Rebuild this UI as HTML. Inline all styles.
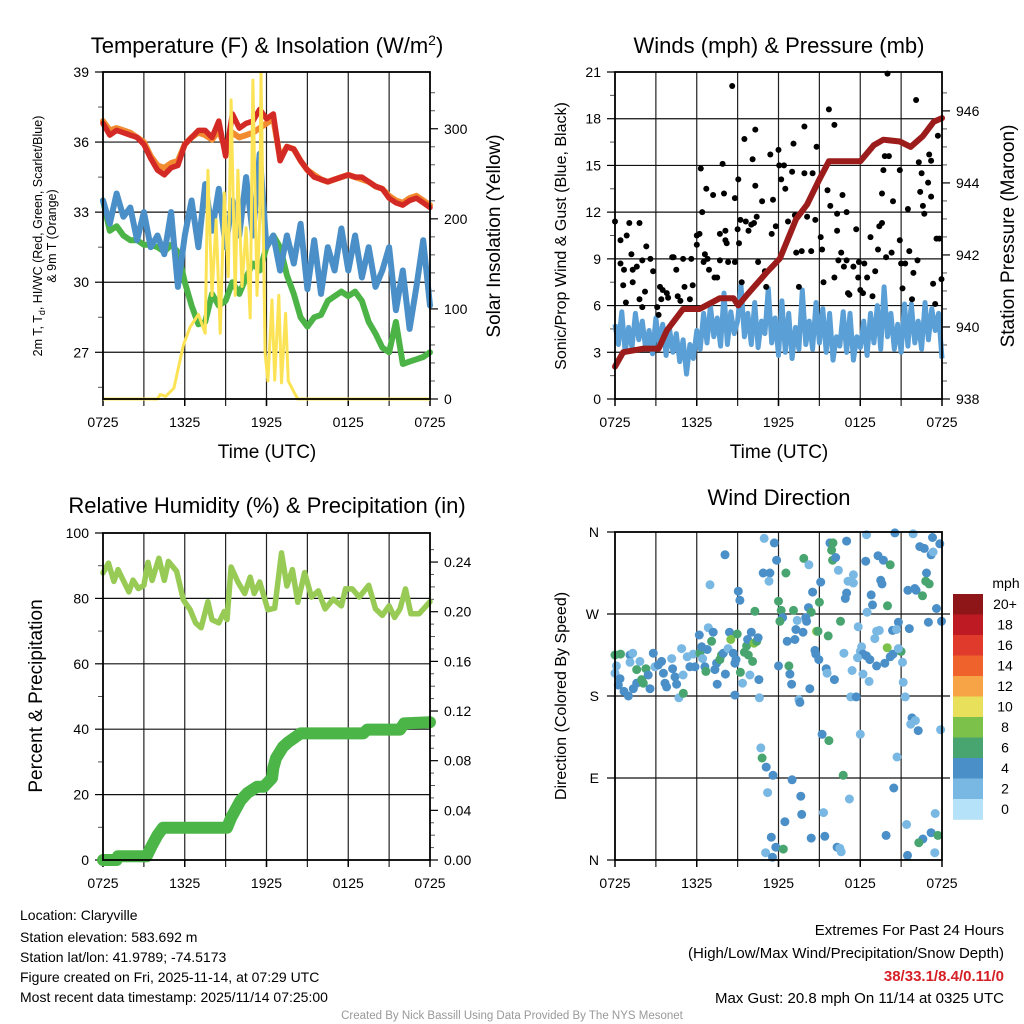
<!DOCTYPE html>
<html><head><meta charset="utf-8"><title>Claryville Mesonet</title>
<style>
html,body{margin:0;padding:0;background:#fff;}
svg{display:block;font-family:"Liberation Sans",Arial,sans-serif;}
</style></head>
<body>
<svg id="fig" width="1024" height="1024" viewBox="0 0 1024 1024" xmlns="http://www.w3.org/2000/svg">
<rect width="1024" height="1024" fill="#fff"/>
<text x="267" y="53" font-size="22" text-anchor="middle">Temperature (F) &amp; Insolation (W/m<tspan dy="-8" font-size="14">2</tspan><tspan dy="8">)</tspan></text>
<text x="779" y="53" font-size="22" text-anchor="middle">Winds (mph) &amp; Pressure (mb)</text>
<text x="267" y="513" font-size="22" text-anchor="middle">Relative Humidity (%) &amp; Precipitation (in)</text>
<text x="779" y="505" font-size="22" text-anchor="middle">Wind Direction</text>
<text transform="translate(42,236) rotate(-90)" font-size="12.5" text-anchor="middle">2m T, T<tspan dy="3" font-size="9">d</tspan><tspan dy="-3">, HI/WC (Red, Green, Scarlet/Blue)</tspan></text>
<text transform="translate(56,236) rotate(-90)" font-size="12.5" text-anchor="middle">&amp; 9m T (Orange)</text>
<text transform="translate(500,236) rotate(-90)" font-size="19" text-anchor="middle">Solar Insolation (Yellow)</text>
<text x="267" y="458" font-size="19" text-anchor="middle">Time (UTC)</text>
<text transform="translate(566,236) rotate(-90)" font-size="16" text-anchor="middle">Sonic/Prop Wind &amp; Gust (Blue, Black)</text>
<text transform="translate(1014,236) rotate(-90)" font-size="19" text-anchor="middle">Station Pressure (Maroon)</text>
<text x="779" y="458" font-size="19" text-anchor="middle">Time (UTC)</text>
<text transform="translate(42,696) rotate(-90)" font-size="19" text-anchor="middle">Percent &amp; Precipitation</text>
<text transform="translate(566,696) rotate(-90)" font-size="16" text-anchor="middle">Direction (Colored By Speed)</text>
<g font-size="14">
<text x="20" y="920">Location: Claryville</text>
<text x="20" y="942">Station elevation: 583.692 m</text>
<text x="20" y="962">Station lat/lon: 41.9789; -74.5173</text>
<text x="20" y="982">Figure created on Fri, 2025-11-14, at 07:29 UTC</text>
<text x="20" y="1002">Most recent data timestamp: 2025/11/14 07:25:00</text>
</g>
<g font-size="15" text-anchor="end">
<text x="1004" y="935">Extremes For Past 24 Hours</text>
<text x="1004" y="958">(High/Low/Max Wind/Precipitation/Snow Depth)</text>
<text x="1004" y="981" fill="#d62027" font-weight="bold">38/33.1/8.4/0.11/0</text>
<text x="1004" y="1003">Max Gust: 20.8 mph On 11/14 at 0325 UTC</text>
</g>
<text x="512" y="1019" font-size="11.5" fill="#999" text-anchor="middle">Created By Nick Bassill Using Data Provided By The NYS Mesonet</text>
<g id="layers"></g>
</svg>
<script>
const timeLabels = ["0725","1325","1925","0125","0725"];
const tempRed = [36.8,36.3,36.5,36.4,36.3,36.2,35.9,35.3,34.8,34.6,34.9,35.0,35.9,36.2,36.5,36.5,36.2,36.9,35.4,37.2,36.6,36.8,36.9,37.4,37.0,37.2,35.2,35.8,35.7,35.2,34.8,34.5,34.4,34.3,34.4,34.5,34.6,34.5,34.5,34.3,34.1,34.0,33.6,33.4,33.3,33.5,33.6,33.4,33.2];
const tempOrange = [36.9,36.5,36.6,36.5,36.4,36.2,36.0,35.4,35.0,34.9,35.1,35.2,35.9,36.2,36.4,36.3,36.1,36.5,35.7,36.4,36.2,36.3,36.4,36.6,36.8,37.0,35.3,35.8,35.7,35.2,34.8,34.6,34.4,34.3,34.4,34.5,34.6,34.5,34.4,34.3,34.1,34.0,33.7,33.5,33.4,33.6,33.7,33.5,33.3];
const tempBlue = [33.5,32.5,33.8,32.8,33.2,31.8,33.0,31.5,32.0,31.2,33.0,29.8,32.0,33.5,31.5,34.2,32.2,34.0,31.5,33.5,32.0,34.5,32.0,35.5,31.5,32.0,30.5,32.0,30.8,32.5,29.7,31.8,29.5,31.5,30.5,32.3,30.5,32.0,30.2,31.5,29.8,30.5,31.5,28.8,30.5,28.0,29.8,31.8,29.0];
const tempGreen = [33.5,32.2,32.4,32.0,31.8,31.8,31.6,31.6,31.5,31.3,31.6,31.3,30.0,29.0,28.2,28.3,29.5,29.0,29.2,30.0,29.5,30.2,30.8,30.5,31.5,32.0,31.5,30.3,29.5,28.5,28.1,28.5,28.6,29.2,29.4,29.6,29.4,29.6,29.2,28.3,27.8,27.2,27.0,28.3,26.5,26.6,26.7,26.8,27.0];
const solarHours = [0,4.0,4.2,4.6,5.2,5.9,6.4,7.0,7.5,7.7,8.0,8.3,8.6,8.9,9.2,9.4,9.7,9.9,10.2,10.5,10.8,11.0,11.3,11.5,11.6,11.9,12.1,12.4,12.6,12.9,13.1,13.4,13.6,14.0,14.3,24];
const solarValues = [0,0,5,3,12,60,80,94,73,254,115,199,73,229,136,332,115,254,125,190,90,354,115,200,362,51,20,110,21,115,18,95,20,8,0,0];
const windSpeed = [4.8,3.5,5.6,3.0,4.6,3.3,5.5,3.8,5.0,3.2,4.4,2.9,5.2,
3.4,4.8,2.8,4.5,3.0,4.2,2.4,3.8,1.6,3.5,2.6,4.4,
3.2,5.5,3.6,6.0,4.0,5.2,3.4,6.8,3.5,5.6,4.2,5.0,
7.3,4.0,5.5,3.5,6.2,3.3,5.0,4.2,7.1,3.6,5.2,2.8,
6.3,3.0,5.5,2.6,4.6,3.2,7.0,3.5,5.0,3.2,6.2,3.6,
5.8,3.0,5.5,2.5,4.0,3.4,5.6,3.0,5.5,2.5,4.0,3.3,
5.0,2.8,5.5,3.6,6.0,3.2,7.2,4.0,5.5,3.2,4.8,3.0,
6.1,3.4,6.1,3.6,5.0,3.2,6.2,3.8,5.8,4.4,5.5,2.6];
const gustHours = [0,0.4,0.4,0.66,0.86,1.05,1.2,1.3,1.6,1.8,1.3,0.6,0.8,1.8,2.0,2.2,2.3,2.0,2.6,2.8,3.1,3.2,3.3,3.5,3.8,3.4,3.9,4.2,4.3,4.5,4.6,4.8,5.1,5.5,5.7,5.0,5.6,6.0,6.2,6.3,6.4,6.0,6.5,6.6,6.7,6.8,6.9,7.2,7.3,7.5,7.7,7.7,7.9,8.0,8.1,8.1,8.2,8.3,8.6,8.8,8.8,9.0,9.05,9.1,9.2,9.3,9.5,9.6,9.8,10.0,10.1,10.2,10.3,10.4,10.5,10.3,10.8,11.0,11.1,11.4,11.5,11.6,11.8,12.0,12.05,12.2,12.4,12.5,12.7,13.0,13.1,13.2,13.3,13.5,13.7,13.9,13.9,14.1,14.4,14.5,14.7,14.8,15.1,15.2,15.3,15.6,15.7,15.8,16.1,16.1,16.3,16.3,16.4,16.6,16.7,16.8,17.0,17.0,17.1,17.2,17.5,17.7,17.85,17.9,18.0,18.2,18.3,18.5,18.75,18.9,19.1,19.3,19.4,19.6,19.6,19.7,19.8,19.9,20.0,20.1,20.3,20.4,20.9,20.9,21.0,21.1,21.3,21.5,21.6,21.8,21.9,22.1,22.2,22.3,22.4,22.5,22.6,22.7,22.98,23.06,23.2,23.2,23.35,23.5,23.6,23.7,23.8,23.96];
const gustValues = [11.4,8.7,10.2,8.3,10.5,11.3,9.3,8.3,8.5,11.3,7.5,7.3,6.2,6.4,5.9,6.9,9.8,8.9,9.0,8.2,5.9,5.4,7.2,7.0,6.8,6.4,6.5,9.1,9.1,8.3,6.6,6.3,7.2,6.4,7.3,9.0,9.0,10.5,10.6,14.8,12.0,9.9,8.8,9.3,13.5,9.0,8.3,13.1,7.8,7.8,8.9,10.6,15.1,13.2,10.8,10.2,10.0,8.8,20.1,12.9,8.8,10.9,14.1,10.0,11.5,7.5,16.7,11.4,10.8,11.2,15.4,11.3,13.7,11.7,8.8,17.3,12.7,8.2,7.2,15.7,10.6,12.8,11.1,16.0,15.0,14.1,15.0,13.5,11.4,14.6,16.4,11.8,9.4,7.2,9.5,17.5,14.5,11.7,9.5,14.5,11.5,16.2,10.4,9.6,7.5,13.4,18.6,12.4,17.6,7.8,10.8,11.9,8.9,9.4,13.1,8.5,12.0,8.9,6.8,6.7,8.5,10.9,7.8,8.8,7.0,6.8,8.7,7.8,10.4,6.6,8.2,9.6,11.1,11.3,13.2,14.7,15.6,9.1,20.9,15.6,9.4,12.7,10.2,14.7,8.7,7.1,8.7,12.2,9.5,6.4,8.1,19.2,8.9,15.2,13.3,14.5,12.4,11.9,13.9,15.7,15.3,13.0,7.4,6.1,10.3,16.9,10.3,7.7];
const pressHours = [0,0.6,2.1,3.2,3.8,5.0,6.2,7.7,8.7,9.05,9.7,11.1,12.1,13.3,14.1,15.0,15.7,18.0,19.0,19.7,20.9,21.7,22.6,23.4,24];
const pressValues = [938.9,939.3,939.4,939.4,939.9,940.5,940.5,940.8,940.8,940.6,940.9,941.5,941.9,943.0,943.4,944.1,944.6,944.6,945.05,945.2,945.15,945.0,945.3,945.7,945.8];
const rhHours = [0,0.4,0.8,1.1,1.9,2.2,2.6,3.0,3.3,3.6,4.1,4.5,4.8,5.4,5.9,6.4,6.8,7.2,7.7,8.0,8.5,8.9,9.1,9.4,9.9,10.4,10.8,11.1,11.5,12.1,12.6,13.1,13.5,13.9,14.3,14.8,15.3,15.8,16.3,16.9,17.5,17.8,18.3,18.8,19.5,20.0,20.5,21.0,21.4,21.8,22.2,22.6,23.2,24];
const rhValues = [87.8,90.8,85.2,88.8,82.0,85.6,83.0,84.0,91.0,85.5,92.3,85.5,91.3,88.3,79.5,76.5,72.5,71.0,79.0,73.5,72.5,76.0,73.5,89.6,85.0,81.5,86.5,81.5,85.0,76.5,77.0,93.9,83.8,88.8,78.8,87.9,80.4,82.3,76.8,79.8,77.7,82.9,82.9,80.4,84.0,76.8,74.8,77.7,74.2,76.8,82.9,75.3,75.3,79.0];
const precipHours = [0,1.0,1.1,3.2,3.6,4.0,4.4,9.1,9.4,9.8,10.1,10.6,11.3,11.8,12.4,12.5,12.7,13.2,13.6,14.5,19.1,19.4,21.8,22.1,24];
const precipValues = [0,0,0.003,0.003,0.012,0.02,0.026,0.026,0.034,0.042,0.048,0.054,0.059,0.059,0.066,0.074,0.082,0.091,0.095,0.102,0.102,0.105,0.105,0.110,0.111];
const dirHours = [0,0.4,1.1,1.3,0.1,0,0.37,0.24,0.66,0.98,1.34,1.59,1.1,1.83,1.59,1.96,2.27,2.08,2.44,2.57,2.81,2.93,3.18,3.42,3.55,3.67,3.79,4.16,4.23,4.4,4.52,4.69,4.89,5.01,5.0,5.3,5.5,5.75,5.87,6.19,6.23,6.36,6.43,6.6,6.67,6.77,6.85,7.09,7.21,7.33,7.46,7.5,7.7,7.82,7.95,8.1,8.3,8.4,8.5,8.68,8.8,8.88,8.97,9.2,9.36,9.5,9.66,9.78,9.9,9.73,10.0,10.1,10.2,10.4,10.5,10.56,10.6,
8.07,6.97,9.05,9.17,8.8,10.95,11.69,11.86,10.88,11.37,11.3,12.54,13.86,14.23,15.77,16.0,15.9,15.97,16.2,17.0,16.4,18.46,20.54,21.88,23.3,23.84,19.3,19.7,20.2,22.37,22.7,23.2,23.35,17.1,17.5,17.5,15.1,14.5,17.0,16.9,18.4,19.5,19.6,22.86,22.8,23.06,21.5,22.0,22.1,22.57,18.8,18.9,20.0,18.5,23.6,12.0,12.2,13.1,12.3,12.1,10.27,14.2,14.4,15.0,14.0,14.06,16.55,17.85,20.8,21.6,23.0,23.96,13.37,13.28,13.8,13.2,12.64,14.8,14.9,15.65,19.2,19.4,20.37,20.66,19.07,18.1,18.0,18.2,18.46,17.8,18.7,19.2,19.8,19.98,20.2,20.4,21.0,20.8,21.1,14.67,14.74,14.96,16.8,15.5,15.57,16.1,17.4,18.2,18.65,12.0,12.76,12.84,12.96,14.3,13.5,13.57,17.3,17.7,21.15,21.3,21.8,21.7,22.05,22.25,23.9,15.2,15.7,18.0,10.7,10.8,11.1,11.6,16.75,13.0,20.46,20.7,11.2,13.64,17.2,13.7,12.47,15.3,23.5,21.4,11.47,14.4,15.4,19.9,23.2,22.6,23.7,22.3,11.8,12.35,11.05,11.56,16.3,16.6,16.5,21.47,23.47];
const dirDegrees = [225,226,225,227,213,205,199,192,185,180,188,194,217,218,209,198,210,194,203,188,227,212,214,218,205,194,190,221,210,201,193,178,232,183,203,223,212,226,212,247,227,234,221,212,207,231,255,240,250,209,216,193,220,225,227,204,232,250,242,227,216,220,248,206,194,228,235,225,203,242,250,218,238,240,244,198,178,
335,302,295,285,181,353,348,329,315,315,306,315,331,324,348,348,340,329,332,350,318,357,359,358,354,347,334,329,324,344,342,335,338,306,313,304,305,294,293,287,328,307,303,315,306,303,296,298,296,290,291,280,279,272,276,284,274,274,266,262,273,277,272,283,266,262,262,256,261,254,261,262,263,253,250,242,240,251,251,246,251,252,252,253,243,234,229,226,224,222,220,213,216,233,223,226,229,232,217,230,226,220,227,210,205,198,208,204,196,213,213,204,193,188,176,173,179,179,195,179,156,149,153,142,143,138,131,138,123,112,102,93,93,88,79,113,74,70,67,50,42,52,51,39,25,24,26,27,30,23,27,19,14,12,8,3,14,9,13,5,8];
const dirSpeeds = [7,7,5,3,3,3,5,5,5,5,5,5,3,3,7,7,7,7,5,5,5,3,5,5,5,5,5,3,5,5,5,3,3,7,3,3,5,3,5,5,7,5,3,5,7,5,3,7,5,5,5,5,7,7,5,5,3,5,9,5,5,5,7,7,3,7,7,7,3,5,5,7,9,7,5,5,3,
5,3,5,5,5,3,5,5,5,5,3,7,7,3,5,7,7,7,5,5,3,3,5,3,5,5,5,5,7,5,5,5,3,3,3,3,5,5,5,5,5,5,5,5,7,7,5,5,5,7,5,5,7,3,5,7,7,7,5,7,7,5,7,7,5,5,7,3,5,5,5,5,3,5,5,5,5,9,7,7,3,3,5,3,3,3,3,5,5,3,5,5,5,9,5,5,7,3,3,5,5,5,3,5,3,5,3,3,3,5,7,5,5,5,3,5,3,5,3,3,5,3,3,5,3,5,7,3,3,7,5,5,7,5,5,3,3,5,3,5,5,3,3,3,5,5,5,5,5,5,7,7,5,7,3,5,5,3,3,5,3];
const speedBinLabels = ["20+","18","16","14","12","10","8","6","4","2","0"];
const speedBinColors = ["#8e1518","#bd1a24","#df3a2b","#f0622b","#f7a446","#e8e05a","#7cc24a","#48a56f","#4a8fc7","#7ab8e4","#b5e2f8"];
const tempTicks = [27,30,33,36,39];
const solarTicks = [0,100,200,300];
const windTicks = [0,3,6,9,12,15,18,21];
const pressTicks = [938,940,942,944,946];
const rhTicks = [0,20,40,60,80,100];
const precipTicks = [0,0.04,0.08,0.12,0.16,0.20,0.24];
const dirTicks = ["N","E","S","W","N"];

const NS = "http://www.w3.org/2000/svg";
const layers = document.getElementById("layers");
function mk(tag, attrs, parent) {
  const e = document.createElementNS(NS, tag);
  for (const k in attrs) e.setAttribute(k, attrs[k]);
  (parent || layers).appendChild(e);
  return e;
}
function lin(d0, d1, r0, r1) { return v => r0 + (v - d0) * (r1 - r0) / (d1 - d0); }
function pathFrom(xs, ys, fx, fy) {
  let d = "";
  for (let i = 0; i < xs.length; i++) d += (i ? "L" : "M") + fx(xs[i]).toFixed(1) + "," + fy(ys[i]).toFixed(1);
  return d;
}
function seq(n, step) { const a = []; for (let i = 0; i < n; i++) a.push(i * step); return a; }

function panelFrame(g, L, R, T, B, xs) {
  for (let h = 3; h < 24; h += 3) {
    const x = xs(h);
    const gl = mk("line", {x1: x, x2: x, y1: T, y2: B + 7, stroke: "#222", "stroke-width": 1.2}, g);
    
    
  }
  timeLabels.forEach((t, i) => {
    const x = xs(i * 6);
    const tk = mk("line", {x1: x, x2: x, y1: B, y2: B + 7, stroke: "#000", "stroke-width": 1.5}, g);
    
    
    const tx = mk("text", {x: x, y: B + 28, "font-size": 14, "text-anchor": "middle"}, g);
    tx.textContent = t;
    
    
  });
}
function hgrid(g, L, R, y) {
  const l = mk("line", {x1: L, x2: R, y1: y, y2: y, stroke: "#111", "stroke-width": 1.2}, g);
  
  
}
function leftTick(g, L, y, label) {
  const t = mk("line", {x1: L - 8, x2: L, y1: y, y2: y, stroke: "#000", "stroke-width": 1.2}, g);
  
  
  const tx = mk("text", {x: L - 14, y: y + 5, "font-size": 14, "text-anchor": "end"}, g);
  tx.textContent = label;
  
  
}
function rightTick(g, R, y, label) {
  const t = mk("line", {x1: R, x2: R + 8, y1: y, y2: y, stroke: "#000", "stroke-width": 1.2}, g);
  
  
  const tx = mk("text", {x: R + 14, y: y + 5, "font-size": 14, "text-anchor": "start"}, g);
  tx.textContent = label;
  
  
}
function minor(g, x1, x2, y) {
  const t = mk("line", {x1: x1, x2: x2, y1: y, y2: y, stroke: "#555", "stroke-width": 1}, g);
  
  
}
function border(g, L, R, T, B) {
  const r = mk("rect", {x: L, y: T, width: R - L, height: B - T, fill: "none", stroke: "#000", "stroke-width": 1.8}, g);
  
  
}

(function () {
  const L = 103, R = 430, T = 72, B = 399;
  const g = mk("g", {});
  
  
  const xs = lin(0, 24, L, R), ty = lin(25, 39, B, T), sy = lin(0, 363, B, T);
  panelFrame(g, L, R, T, B, xs);
  tempTicks.forEach(v => { if (v < 39) hgrid(g, L, R, ty(v)); leftTick(g, L, ty(v), String(v)); });
  for (let v = 25.5; v < 39; v += 1.5) if (Math.abs((v - 27) % 3) > 0.1) minor(g, L - 5, L, ty(v));
  solarTicks.forEach(v => rightTick(g, R, sy(v), String(v)));
  for (let v = 20; v < 360; v += 20) if (v % 100) minor(g, R, R + 5, sy(v));
  const th = seq(49, 0.5);
  const series = [
    ["temp-9m-orange-line", tempOrange, "#f28a30", 6],
    ["dewpoint-green-line", tempGreen, "#4cb447", 6],
    ["wind-chill-blue-line", tempBlue, "#4a8fc7", 6],
    ["temp-2m-red-line", tempRed, "#d42a26", 5.5]
  ];
  series.forEach(s => {
    const p = mk("path", {d: pathFrom(th, s[1], xs, ty), fill: "none", stroke: s[2], "stroke-width": s[3], "stroke-linejoin": "round", "stroke-linecap": "round"}, g);
    
    
  });
  const sp = mk("path", {d: pathFrom(solarHours, solarValues, xs, sy), fill: "none", stroke: "#fce355", "stroke-width": 3, "stroke-linejoin": "round"}, g);
  
  
  border(g, L, R, T, B);
})();

(function () {
  const L = 615, R = 942, T = 72, B = 399;
  const g = mk("g", {});
  
  
  const xs = lin(0, 24, L, R), wy = lin(0, 21, B, T), py = lin(938, 947.08, B, T);
  panelFrame(g, L, R, T, B, xs);
  windTicks.forEach(v => { if (v > 0 && v < 21) hgrid(g, L, R, wy(v)); leftTick(g, L, wy(v), String(v)); });
  for (let v = 1.5; v < 21; v += 3) minor(g, L - 5, L, wy(v));
  pressTicks.forEach(v => rightTick(g, R, py(v), String(v)));
  for (let v = 938.5; v < 947; v += 0.5) if (Math.abs(v % 2) > 0.1) minor(g, R, R + 5, py(v));
  const wp = mk("path", {d: pathFrom(seq(97, 0.25), windSpeed, xs, wy), fill: "none", stroke: "#5a9fd6", "stroke-width": 5, "stroke-linejoin": "round"}, g);
  
  
  gustHours.forEach((h, i) => {
    const c = mk("circle", {cx: xs(h).toFixed(1), cy: wy(gustValues[i]).toFixed(1), r: 3, fill: "#000"}, g);
    
    
  });
  const pp = mk("path", {d: pathFrom(pressHours, pressValues, xs, py), fill: "none", stroke: "#9c1c1c", "stroke-width": 6, "stroke-linejoin": "round", "stroke-linecap": "round"}, g);
  
  
  border(g, L, R, T, B);
})();

(function () {
  const L = 103, R = 430, T = 533, B = 860;
  const g = mk("g", {});
  
  
  const xs = lin(0, 24, L, R), ry = lin(0, 100, B, T), qy = lin(0, 0.2634, B, T);
  panelFrame(g, L, R, T, B, xs);
  rhTicks.forEach(v => { if (v > 0 && v < 100) hgrid(g, L, R, ry(v)); leftTick(g, L, ry(v), String(v)); });
  for (let v = 10; v < 100; v += 20) minor(g, L - 5, L, ry(v));
  precipTicks.forEach(v => rightTick(g, R, qy(v), v.toFixed(2)));
  for (let v = 0.02; v < 0.26; v += 0.04) minor(g, R, R + 5, qy(v));
  for (let v = 0.01; v < 0.26; v += 0.02) minor(g, R, R + 4, qy(v));
  const rp = mk("path", {d: pathFrom(rhHours, rhValues, xs, ry), fill: "none", stroke: "#97cb55", "stroke-width": 5.5, "stroke-linejoin": "round", "stroke-linecap": "round"}, g);
  
  
  const qp = mk("path", {d: pathFrom(precipHours, precipValues, xs, qy), fill: "none", stroke: "#4bb548", "stroke-width": 12, "stroke-linejoin": "round", "stroke-linecap": "round"}, g);
  
  
  border(g, L, R, T, B);
})();

(function () {
  const L = 615, R = 942, T = 532, B = 860;
  const g = mk("g", {});
  
  
  const xs = lin(0, 24, L, R), dy = lin(0, 360, B, T);
  panelFrame(g, L, R, T, B, xs);
  dirTicks.forEach((lab, i) => {
    const y = dy(i * 90);
    if (i > 0 && i < 4) hgrid(g, L, R + 8, y);
    const lt = mk("line", {x1: L - 8, x2: L, y1: y, y2: y, stroke: "#000", "stroke-width": 1.2}, g);
    
    
    const tx = mk("text", {x: L - 16, y: y + 5, "font-size": 14, "text-anchor": "end"}, g);
    tx.textContent = lab;
    
    
  });
  dirHours.forEach((h, i) => {
    const s = dirSpeeds[i];
    const bin = Math.min(10, Math.floor(s / 2));
    const c = mk("circle", {cx: xs(h).toFixed(1), cy: dy(dirDegrees[i]).toFixed(1), r: 4.5, fill: speedBinColors[10 - bin]}, g);
    
    
  });
  border(g, L, R, T, B);
  const cb = mk("g", {});
  
  
  const cbT = 594, cbH = 20.5;
  speedBinLabels.forEach((lab, i) => {
    const r = mk("rect", {x: 953, y: cbT + i * cbH, width: 30, height: cbH + 0.3, fill: speedBinColors[i]}, cb);
    
    
    const t = mk("text", {x: 1005, y: cbT + i * cbH + 15, "font-size": 14, "text-anchor": "middle"}, cb);
    t.textContent = lab;
    
    
  });
  const u = mk("text", {x: 1006, y: 588, "font-size": 14, "text-anchor": "middle"}, cb);
  u.textContent = "mph";
  
  
})();
</script>
</body></html>
